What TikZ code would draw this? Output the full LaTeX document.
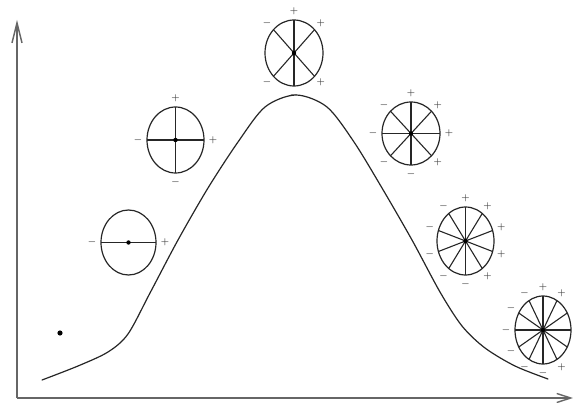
\documentclass[tikz,border=0pt]{standalone}
\usetikzlibrary{arrows.meta}
\tikzset{
  axisline/.style={gray!80!black, line width=1.4pt},
  curveline/.style={black!85, line width=1.2pt, line cap=round},
  ringline/.style={black!85, line width=1.2pt},
  spokeline/.style={black!85, line width=1.1pt},
  lbl/.style={font=\fontsize{9}{10}\selectfont\boldmath, text=black!75, inner sep=0pt},
  hubdot/.style={fill=black}
}
% #1 name, #2 cx, #3 cy, #4 rx, #5 ry, #6 spoke angles, #7 label list angle/sign
\newcommand\mywheel[7]{%
  \begin{scope}[shift={(#2,#3)}]
    \foreach \a in {#6} {
      \draw[spokeline] (0,0) -- ({#4*cos(\a)},{-#5*sin(\a)});
    }
    \foreach \a/\s in {#7} {
      \node[lbl] (#1-\a) at ({(#4+9)*cos(\a)},{-(#5+9)*sin(\a)}) {$\s$};
    }
    \draw[ringline] (0,0) ellipse [x radius=#4, y radius=#5];
    \fill[hubdot] (0,0) circle (2.2);
  \end{scope}}
\begin{document}
\begin{tikzpicture}[x=1pt,y=-1pt]
\useasboundingbox (0,0) rectangle (573,403);
\clip (0,0) rectangle (573,403);
% axes
\coordinate (origin) at (17,398);
\coordinate (ytip) at (17,20);
\coordinate (xtip) at (573,398);
\draw[axisline, -{Straight Barb[length=20pt,width=10pt]}] (origin) -- (ytip);
\draw[axisline, -{Straight Barb[length=14pt,width=9pt]}] (origin) -- (xtip);
% bell curve
\draw[curveline] plot[smooth, tension=0.5] coordinates {
 (42,380) (78,366) (108,352) (128,334) (150,293) (178,240) (208,188)
 (238,142) (265,107) (296,95) (327,107) (354,142) (382,188) (412,240)
 (440,292) (462,326) (485,348) (515,366) (548,379)};
% isolated dot
\fill[hubdot] (60,333) circle (2.6);
% wheels
\mywheel{wa}{128.5}{242.5}{27.5}{32.5}{0,180}{0/+,180/-}
\mywheel{wb}{175.5}{140}{28.5}{33}{0,90,180,270}{90/+,0/+,270/-,180/-}
\mywheel{wc}{294}{53}{29}{33}{90,45,-45,270,225,135}{90/+,45/+,-45/+,270/-,225/-,135/-}
\mywheel{wd}{411}{133.5}{29}{31.5}{0,45,...,315}{90/+,45/+,0/+,-45/+,270/-,225/-,180/-,135/-}
\mywheel{we}{465.5}{241}{28.5}{34}{18,54,...,342}{90/+,54/+,18/+,-18/+,-54/+,270/-,234/-,198/-,162/-,126/-}
\mywheel{wf}{543}{330}{28}{34}{0,30,...,330}{90/+,60/+,-60/+,270/-,240/-,210/-,180/-,150/-,120/-}
\end{tikzpicture}
\end{document}
